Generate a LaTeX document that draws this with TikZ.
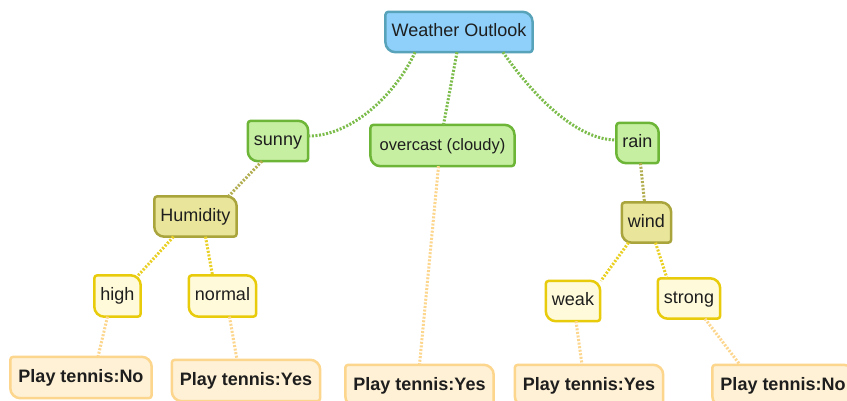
\documentclass[tikz,border=0pt]{standalone}
\usepackage{fontspec}
\setmainfont{Liberation Sans}
\pgfdeclarelayer{background}
\pgfsetlayers{background,main}

\definecolor{inkText}{HTML}{1E1E1E}
\definecolor{rootFill}{HTML}{8ED0FA}
\definecolor{rootLine}{HTML}{58A3BA}
\definecolor{greenFill}{HTML}{C6EFA2}
\definecolor{greenLine}{HTML}{6CB536}
\definecolor{oliveFill}{HTML}{E9E59B}
\definecolor{oliveLine}{HTML}{A9A53C}
\definecolor{yelFill}{HTML}{FFFBDA}
\definecolor{yelLine}{HTML}{E8CB0A}
\definecolor{leafFill}{HTML}{FFF1D5}
\definecolor{leafLine}{HTML}{FDD68E}

\tikzset{
  x=1pt, y=-1pt,
  boxtext/.style={font=\fontsize{18}{21}\selectfont, text=inkText,
    inner xsep=6pt, inner ysep=0pt, minimum height=40pt,
    text height=13.4pt, text depth=3.6pt},
  smalltext/.style={font=\fontsize{16.5}{19}\selectfont, inner xsep=9pt, minimum height=41pt},
  leaftext/.style={font=\fontsize{18}{21}\bfseries\selectfont, inner xsep=8pt, minimum height=41pt},
  outline/.style={line width=2.5pt, line join=round},
  rootbox/.style={outline, fill=rootFill, draw=rootLine},
  greenbox/.style={outline, fill=greenFill, draw=greenLine},
  olivebox/.style={outline, fill=oliveFill, draw=oliveLine},
  yelbox/.style={outline, fill=yelFill, draw=yelLine},
  leafbox/.style={outline, fill=leafFill, draw=leafLine},
  link/.style={line width=3pt, dash pattern=on 2pt off 1.6pt},
  glink/.style={link, draw=greenLine!90!white},
  olink/.style={link, draw=oliveLine!90!white},
  ylink/.style={link, draw=yelLine!90!white},
  llink/.style={link, draw=leafLine},
}

% a labelled box: large rounding on the top-right and bottom-left corners
\newcommand\cmbox[5]{%
  \node[boxtext,#4] (#2) at (#3) {#5};
  \begin{pgfonlayer}{background}
    \path[#1] (#2.north) [rounded corners=10pt] -- (#2.north east)
      [rounded corners=3pt] -- (#2.south east)
      [rounded corners=10pt] -- (#2.south west)
      [rounded corners=3pt] -- (#2.north west) -- cycle;
  \end{pgfonlayer}
}

\begin{document}
\begin{tikzpicture}
\begin{pgfonlayer}{background}
  \fill[white] (0,0) rectangle (847,401);
\end{pgfonlayer}
\useasboundingbox (0,0) rectangle (847,401);

\cmbox{rootbox}{wo}{459,32}{}{Weather Outlook}

\cmbox{greenbox}{sunny}{278,141}{}{sunny}
\cmbox{greenbox}{oc}{442.5,145.5}{smalltext}{overcast (cloudy)}
\cmbox{greenbox}{rain}{637.5,143}{}{rain}

\cmbox{olivebox}{hum}{195.5,216.5}{}{Humidity}
\cmbox{olivebox}{wind}{646.5,222.5}{}{wind}

\cmbox{yelbox}{high}{117.5,296}{minimum height=41pt}{high}
\cmbox{yelbox}{normal}{222.5,296}{minimum height=41pt}{normal}
\cmbox{yelbox}{weak}{573,301}{}{weak}
\cmbox{yelbox}{strong}{689,298.5}{}{strong}

\cmbox{leafbox}{p1}{81,377.5}{leaftext}{Play tennis:No}
\cmbox{leafbox}{p2}{246,380.5}{leaftext}{Play tennis:Yes}
\cmbox{leafbox}{p3}{419.5,385.5}{leaftext}{Play tennis:Yes}
\cmbox{leafbox}{p4}{589,385.5}{leaftext}{Play tennis:Yes}
\cmbox{leafbox}{p5}{783,385.5}{leaftext}{Play tennis:No}

% first split
\draw[glink] ([xshift=-44pt]wo.south) .. controls +(-18,40) and +(45,0) .. ([yshift=5pt]sunny.east);
\draw[glink] ([xshift=-2pt]wo.south) -- ([xshift=1pt]oc.north);
\draw[glink] ([xshift=44pt]wo.south) .. controls +(22,32) and +(-45,0) .. ([yshift=3pt]rain.west);

% second level
\draw[olink] ([xshift=-16pt]sunny.south) -- ([xshift=33pt]hum.north);
\draw[olink] ([xshift=3pt]rain.south) -- ([xshift=-2pt]wind.north);
\draw[llink] ([xshift=-4pt]oc.south) -- ([xshift=0pt]p3.north);

% humidity branches
\draw[ylink] ([xshift=-22pt]hum.south) -- ([xshift=19pt,yshift=-2pt]high.north);
\draw[ylink] ([xshift=10pt]hum.south) -- ([xshift=-10pt]normal.north);
\draw[llink] ([xshift=-10pt]high.south) -- ([xshift=17pt]p1.north);
\draw[llink] ([xshift=7pt]normal.south) -- ([xshift=-9pt]p2.north);

% wind branches
\draw[ylink] ([xshift=-18pt]wind.south) -- ([xshift=28pt]weak.north);
\draw[ylink] ([xshift=9pt]wind.south) -- ([xshift=-22pt]strong.north);
\draw[llink] ([xshift=3pt]weak.south) -- ([xshift=-7pt]p4.north);
\draw[llink] ([xshift=16pt]strong.south) -- ([xshift=-43pt]p5.north);
\end{tikzpicture}
\end{document}
